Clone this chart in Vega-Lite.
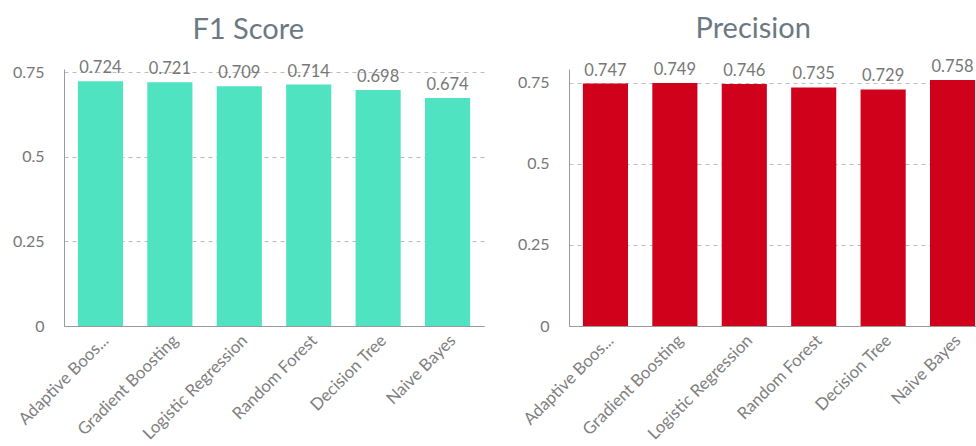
{
  "$schema": "https://vega.github.io/schema/vega-lite/v6.json",
  "padding": {"left": 12, "top": 15, "right": 0, "bottom": 0},
  "config": {
    "font": "Lato",
    "view": {"stroke": null},
    "axis": {"labelFont": "Lato", "labelColor": "#777", "domainColor": "#9a9a9a", "title": null},
    "title": {"font": "Lato", "fontSize": 29, "fontWeight": "normal", "color": "#6c7884", "frame": "bounds", "anchor": "middle", "offset": 15}
  },
  "data": {
    "values": [
      {"model": "Adaptive Boosting", "f1": 0.724, "precision": 0.747},
      {"model": "Gradient Boosting", "f1": 0.721, "precision": 0.749},
      {"model": "Logistic Regression", "f1": 0.709, "precision": 0.746},
      {"model": "Random Forest", "f1": 0.714, "precision": 0.735},
      {"model": "Decision Tree", "f1": 0.698, "precision": 0.729},
      {"model": "Naive Bayes", "f1": 0.674, "precision": 0.758}
    ]
  },
  "spacing": 33,
  "hconcat": [
    {
      "title": "F1 Score",
      "width": 420,
      "height": 257,
      "encoding": {
        "x": {"field": "model", "type": "nominal", "sort": null,
          "scale": {"paddingInner": 0.35, "paddingOuter": 0.2},
          "axis": {"labelAngle": -45, "labelFontSize": 16.8, "ticks": false, "labelPadding": 6, "labelColor": "#808080",
            "labelExpr": "datum.label == 'Adaptive Boosting' ? 'Adaptive Boos...' : datum.label"}},
        "y": {"field": "f1", "type": "quantitative",
          "scale": {"domain": [0, 0.760], "nice": false},
          "axis": {"values": [0, 0.25, 0.5, 0.75], "labelExpr": "datum.value", "ticks": false, "labelPadding": 20, "labelFontSize": 16,
            "gridDash": [4, 4], "gridColor": "#bdbdbd"}}
      },
      "layer": [
        {"mark": {"type": "bar", "color": "#50e3c2"}},
        {"mark": {"type": "text", "baseline": "alphabetic", "dy": -8, "fontSize": 16.5, "color": "#777"},
         "encoding": {"text": {"field": "f1", "type": "quantitative", "format": ".3f"}}}
      ]
    },
    {
      "title": "Precision",
      "width": 420,
      "height": 257,
      "encoding": {
        "x": {"field": "model", "type": "nominal", "sort": null,
          "scale": {"paddingInner": 0.35, "paddingOuter": 0.2},
          "axis": {"labelAngle": -45, "labelFontSize": 16.8, "ticks": false, "labelPadding": 6, "labelColor": "#808080",
            "labelExpr": "datum.label == 'Adaptive Boosting' ? 'Adaptive Boos...' : datum.label"}},
        "y": {"field": "precision", "type": "quantitative",
          "scale": {"domain": [0, 0.792], "nice": false},
          "axis": {"values": [0, 0.25, 0.5, 0.75], "labelExpr": "datum.value", "ticks": false, "labelPadding": 20, "labelFontSize": 16,
            "gridDash": [4, 4], "gridColor": "#bdbdbd"}}
      },
      "layer": [
        {"mark": {"type": "bar", "color": "#d0021b"}},
        {"mark": {"type": "text", "baseline": "alphabetic", "dy": -8, "fontSize": 16.5, "color": "#777"},
         "encoding": {"text": {"field": "precision", "type": "quantitative", "format": ".3f"}}}
      ]
    }
  ]
}
